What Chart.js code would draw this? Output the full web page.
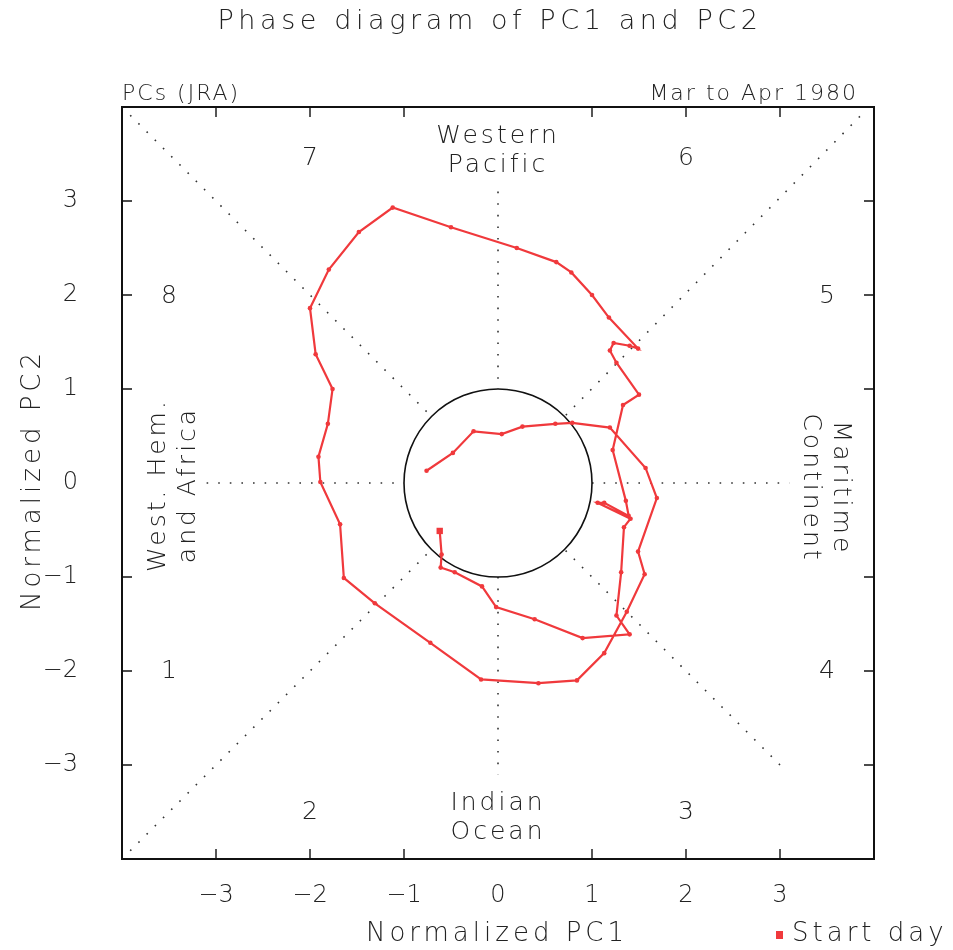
<!DOCTYPE html>
<html>
<head>
<meta charset="utf-8">
<title>Phase diagram of PC1 and PC2</title>
<script src="https://cdn.jsdelivr.net/npm/chart.js@4.4.1/dist/chart.umd.min.js"></script>
<style>
  body { margin: 0; background: #fff; }
  canvas { display: block; }
</style>
</head>
<body>
<canvas id="phaseChart" width="953" height="950"></canvas>
<script>
// daily PC1 / PC2 values, 1 Mar to 30 Apr 1980
const pc1 = [-0.62, -0.60, -0.61, -0.46, -0.17, -0.02, 0.39, 0.90, 1.40, 1.26,
             1.31, 1.34, 1.41, 1.06, 1.13, 1.39, 1.36, 1.22, 1.33, 1.50,
             1.26, 1.19, 1.23, 1.40, 1.49, 1.18, 1.00, 0.78, 0.62, 0.20,
             -0.50, -1.12, -1.48, -1.80, -2.00, -1.94, -1.76, -1.81, -1.91, -1.89,
             -1.68, -1.64, -1.31, -0.72, -0.18, 0.43, 0.84, 1.13, 1.37, 1.56,
             1.49, 1.69, 1.57, 1.19, 0.79, 0.61, 0.26, 0.04, -0.26, -0.48,
             -0.76];
const pc2 = [-0.51, -0.76, -0.90, -0.95, -1.10, -1.32, -1.45, -1.65, -1.61, -1.41,
             -0.95, -0.47, -0.38, -0.21, -0.21, -0.35, -0.19, 0.35, 0.83, 0.94,
             1.28, 1.41, 1.49, 1.46, 1.43, 1.76, 2.00, 2.24, 2.35, 2.50,
             2.72, 2.93, 2.67, 2.27, 1.86, 1.37, 1.00, 0.63, 0.28, 0.01,
             -0.44, -1.01, -1.28, -1.70, -2.09, -2.13, -2.10, -1.81, -1.37, -0.97,
             -0.73, -0.16, 0.16, 0.59, 0.64, 0.63, 0.60, 0.52, 0.55, 0.32,
             0.13];
const tickValues = [-3, -2, -1, 0, 1, 2, 3];
const phaseNames = ['1', '2', '3', '4', '5', '6', '7', '8'];

const RED = '#f0393c';
const INK = '#222';
const FONT = '"DejaVu Sans", "Liberation Sans", sans-serif';

// phase number positions (data units), same order as phaseNames
const phasePos = [[-3.5, -2.0], [-2, -3.5], [2, -3.5], [3.5, -2.0],
                  [3.5, 1.98], [2, 3.45], [-2, 3.45], [-3.5, 1.98]];

const phasePlugin = {
  id: 'phaseDiagram',
  beforeDatasetsDraw(chart) {
    const { ctx, scales: { x, y } } = chart;
    const px = v => x.getPixelForValue(v);
    const py = v => y.getPixelForValue(v);
    ctx.save();
    // dotted phase boundaries
    ctx.strokeStyle = '#333';
    ctx.lineWidth = 1.6;
    ctx.setLineDash([1.6, 10]);
    const r = Math.SQRT1_2;
    const segs = [
      [-4, 4, -r, r], [3.85, 3.9, r, r], [-4, -4, -r, -r], [3, -3, r, -r],
      [0, 3.1, 0, 1], [0, -1, 0, -3.1], [-3.1, 0, -1, 0], [1, 0, 3.1, 0]
    ];
    segs.forEach(([x0, y0, x1, y1]) => {
      ctx.beginPath();
      ctx.moveTo(px(x0), py(y0));
      ctx.lineTo(px(x1), py(y1));
      ctx.stroke();
    });
    // unit circle
    ctx.setLineDash([]);
    ctx.strokeStyle = '#111';
    ctx.lineWidth = 1.6;
    ctx.beginPath();
    ctx.arc(px(0), py(0), px(1) - px(0), 0, Math.PI * 2);
    ctx.stroke();
    ctx.restore();
  },
  afterDraw(chart) {
    const { ctx, chartArea: a, scales: { x, y } } = chart;
    const px = v => x.getPixelForValue(v);
    const py = v => y.getPixelForValue(v);
    ctx.save();
    // frame with inward ticks
    ctx.strokeStyle = '#111';
    ctx.lineWidth = 2;
    ctx.strokeRect(a.left, a.top, a.right - a.left, a.bottom - a.top);
    ctx.lineWidth = 1.4;
    tickValues.filter(v => v !== 0).forEach(v => {
      ctx.beginPath();
      ctx.moveTo(px(v), a.top); ctx.lineTo(px(v), a.top + 10);
      ctx.moveTo(px(v), a.bottom); ctx.lineTo(px(v), a.bottom - 10);
      ctx.moveTo(a.left, py(v)); ctx.lineTo(a.left + 10, py(v));
      ctx.moveTo(a.right, py(v)); ctx.lineTo(a.right - 10, py(v));
      ctx.stroke();
    });

    ctx.fillStyle = INK;
    ctx.textBaseline = 'middle';
    ctx.textAlign = 'center';
    ctx.letterSpacing = '4.6px';
    ctx.font = '300 27px ' + FONT;
    ctx.fillText('Phase diagram of PC1 and PC2', 490, 22);

    ctx.letterSpacing = '2px';
    ctx.font = '300 22px ' + FONT;
    ctx.textAlign = 'left';
    ctx.fillText('PCs (JRA)', 122, 94);
    ctx.textAlign = 'right';
    ctx.fillText('Mar to Apr 1980', 858, 94);

    // phase numbers
    ctx.textAlign = 'center';
    ctx.letterSpacing = '0px';
    ctx.font = '300 25px ' + FONT;
    phaseNames.forEach((n, i) => ctx.fillText(n, px(phasePos[i][0]), py(phasePos[i][1])));

    // region names
    ctx.letterSpacing = '3px';
    ctx.font = '300 25px ' + FONT;
    ctx.fillText('Western', px(0), 136);
    ctx.fillText('Pacific', px(0), 165);
    ctx.fillText('Indian', px(0), 803);
    ctx.fillText('Ocean', px(0), 832);

    ctx.save();
    ctx.translate(173, 485);
    ctx.rotate(-Math.PI / 2);
    ctx.fillText('West. Hem.', 0, -15);
    ctx.fillText('and Africa', 0, 15);
    ctx.restore();

    ctx.save();
    ctx.translate(825, 488);
    ctx.rotate(Math.PI / 2);
    ctx.fillText('Maritime', 0, -15);
    ctx.fillText('Continent', 0, 15);
    ctx.restore();

    // axis titles
    ctx.letterSpacing = '4px';
    ctx.font = '300 26px ' + FONT;
    ctx.fillText('Normalized PC1', 497, 934);
    ctx.save();
    ctx.translate(33, 480);
    ctx.rotate(-Math.PI / 2);
    ctx.fillText('Normalized PC2', 0, 0);
    ctx.restore();

    // start-day key
    ctx.fillStyle = RED;
    ctx.fillRect(776, 931, 7, 8);
    ctx.fillStyle = INK;
    ctx.textAlign = 'left';
    ctx.letterSpacing = '4px';
    ctx.fillText('Start day', 792, 934);
    ctx.restore();
  }
};

const track = pc1.map((v, i) => ({ x: v, y: pc2[i] }));

new Chart(document.getElementById('phaseChart'), {
  type: 'scatter',
  data: {
    datasets: [{
      label: 'PCs (JRA)',
      data: track,
      showLine: true,
      borderColor: RED,
      borderWidth: 2.2,
      pointRadius: 2.3,
      pointBackgroundColor: RED,
      pointBorderWidth: 0
    }, {
      label: 'Start day',
      data: track.slice(0, 1),
      pointStyle: 'rect',
      pointRadius: 4.5,
      pointBackgroundColor: RED,
      pointBorderWidth: 0
    }]
  },
  options: {
    responsive: false,
    animation: false,
    layout: { padding: { top: 107, right: 79, left: 0, bottom: 0 } },
    plugins: { legend: { display: false }, tooltip: { enabled: false } },
    scales: {
      x: {
        type: 'linear', min: -4, max: 4,
        afterFit: s => { s.height = 91; },
        afterBuildTicks: s => { s.ticks = tickValues.map(v => ({ value: v })); },
        grid: { display: false },
        border: { display: false },
        ticks: {
          padding: 14, color: INK,
          font: { family: FONT, size: 24, weight: '300' },
          callback: v => (v < 0 ? '\u2212' + Math.abs(v) : String(v))
        }
      },
      y: {
        type: 'linear', min: -4, max: 4,
        afterFit: s => { s.width = 122; },
        afterBuildTicks: s => { s.ticks = tickValues.map(v => ({ value: v })); },
        grid: { display: false },
        border: { display: false },
        ticks: {
          padding: 36, color: INK,
          font: { family: FONT, size: 24, weight: '300' },
          callback: v => (v < 0 ? '\u2212' + Math.abs(v) : String(v))
        }
      }
    }
  },
  plugins: [phasePlugin]
});
</script>
</body>
</html>
